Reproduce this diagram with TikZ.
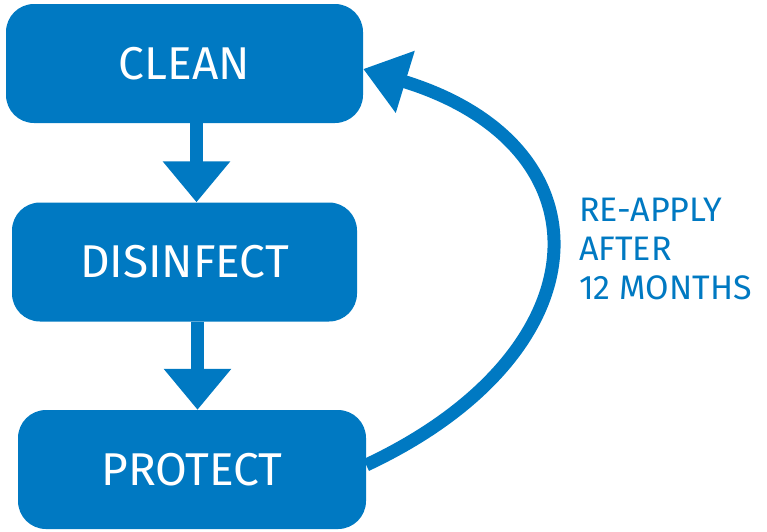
\documentclass[tikz,border=0pt]{standalone}
\usepackage{fontspec}
\setmainfont{Fira Sans}
\usetikzlibrary{arrows.meta}
\definecolor{cleanblue}{RGB}{0,121,194}

\begin{document}
\begin{tikzpicture}[
    x=1pt, y=-1pt,
    stepbox/.style={fill=cleanblue, rounded corners=28pt, inner sep=0pt,
        minimum height=119pt, text=white, font=\fontsize{46}{50}\selectfont},
    flow/.style={draw=cleanblue, line width=13pt, -{Triangle[width=65pt,length=41pt]}},
    repeat/.style={draw=cleanblue, line width=13pt, -{Triangle[width=62pt,length=44pt]}}
]
    \useasboundingbox (0,0) rectangle (767,531);

    % Nodes
    \node[stepbox, minimum width=357pt] (clean) at (184.5,63.5) {CLEAN};
    \node[stepbox, minimum width=345pt] (disinfect) at (184.5,262) {DISINFECT};
    \node[stepbox, minimum width=348pt] (protect) at (192,469.5) {PROTECT};

    % Straight arrows
    \draw[flow] ([xshift=12pt]clean.south) -- ([xshift=12pt]disinfect.north);
    \draw[flow] ([xshift=13pt]disinfect.south) -- ([xshift=13pt]disinfect.south |- protect.north);

    % Curve arrow back to the top
    \draw[repeat] ([yshift=4.5pt]protect.east) .. controls (605,353) and (615,146) .. ([yshift=-5.5pt]clean.east);

    % Label of the curve
    \node[anchor=base west, align=left, text=cleanblue, inner sep=0pt,
        font=\fontsize{34}{39}\selectfont] (label) at (579,299) {RE-APPLY\\AFTER\\12 MONTHS};
\end{tikzpicture}
\end{document}
